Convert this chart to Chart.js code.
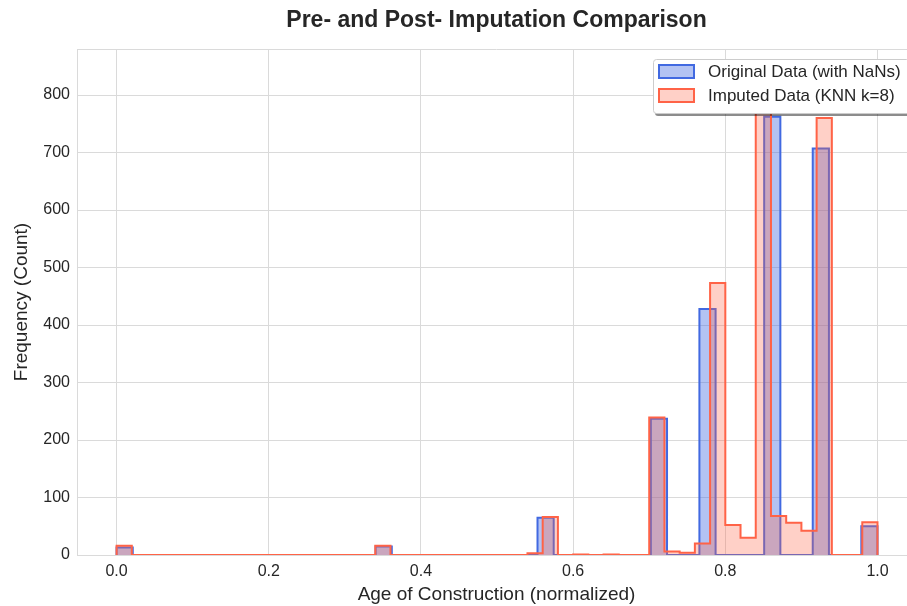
<!DOCTYPE html>
<html>
<head>
<meta charset="utf-8">
<script src="https://cdn.jsdelivr.net/npm/chart.js@4.4.1/dist/chart.umd.min.js"></script>
<style>
  html, body { margin: 0; padding: 0; background: #fff; overflow: hidden; }
  #wrap { width: 940px; height: 606px; }
</style>
</head>
<body>
<div id="wrap"><canvas id="hist" width="940" height="606"></canvas></div>
<script>
// histogram counts, equal-width bins over [0, 1]
var originalCounts = [
  13, 0, 0, 0, 0, 0, 0, 0, 0, 0,
  0, 0, 0, 0, 0, 0, 15, 0, 0, 0,
  0, 0, 0, 0, 0, 0, 65, 0, 0, 0,
  0, 0, 0, 237, 0, 0, 428, 0, 0, 0,
  762, 0, 0, 707, 0, 0, 50
];
var imputedCounts = [
  16, 0, 0, 0, 0, 0, 0, 0, 0, 0,
  0, 0, 0, 0, 0, 0, 0, 16, 0, 0,
  0, 0, 0, 0, 0, 0, 0, 3, 66, 0,
  1, 0, 1, 0, 0, 239, 6, 4, 20, 473,
  52, 30, 838, 68, 56, 42, 760, 0, 0, 57
];
var xTicks = [0.0, 0.2, 0.4, 0.6, 0.8, 1.0];
var yTicks = [0, 100, 200, 300, 400, 500, 600, 700, 800];

var labels = ['Original Data (with NaNs)', 'Imputed Data (KNN k=8)'];
var blueEdge = '#4169e1', blueFill = 'rgba(65,105,225,0.4)';
var redEdge = '#ff6347', redFill = 'rgba(255,99,71,0.3)';
var fontFamily = '"Liberation Sans", Arial, sans-serif';
var textColor = '#262626';
var gridColor = '#dadada';

// outline of a stepfilled histogram: one point per left bin edge, closed at 1.0
function stepPoints(counts){
    var n = counts.length;
    var pts = [{x: 0, y: 0}];
    for(var i = 0; i < n; i++){
        pts.push({x: i / n, y: counts[i]});
    }
    pts.push({x: 1, y: 0});
    return pts;
}

var frame = {
    id: 'frame',
    beforeDraw: function(chart){
        var ctx = chart.ctx, a = chart.chartArea;
        ctx.save();
        ctx.strokeStyle = gridColor;
        ctx.lineWidth = 1;
        ctx.beginPath();
        ctx.moveTo(a.left, a.top + 0.5);
        ctx.lineTo(a.right, a.top + 0.5);
        ctx.moveTo(a.right - 0.5, a.top);
        ctx.lineTo(a.right - 0.5, a.bottom);
        ctx.stroke();
        ctx.restore();
    },
    afterDraw: function(chart){
        var ctx = chart.ctx, a = chart.chartArea;
        ctx.save();
        // title, centred over the plot area
        ctx.fillStyle = textColor;
        ctx.font = 'bold 23px ' + fontFamily;
        ctx.textAlign = 'center';
        ctx.textBaseline = 'middle';
        ctx.fillText('Pre- and Post- Imputation Comparison', (a.left + a.right) / 2, 21);

        // legend box with shadow
        var bx = 653, by = 59, bw = 256, bh = 54;
        ctx.fillStyle = 'rgba(0,0,0,0.45)';
        ctx.beginPath();
        ctx.roundRect(bx + 2, by + 3, bw, bh, 3);
        ctx.fill();
        ctx.fillStyle = '#ffffff';
        ctx.strokeStyle = '#cccccc';
        ctx.lineWidth = 1;
        ctx.beginPath();
        ctx.roundRect(bx + 0.5, by + 0.5, bw, bh, 3);
        ctx.fill();
        ctx.stroke();

        var items = [
            {text: labels[0], fill: blueFill, edge: blueEdge, y: 65},
            {text: labels[1], fill: redFill, edge: redEdge, y: 89}
        ];
        ctx.font = '17px ' + fontFamily;
        ctx.textAlign = 'left';
        items.forEach(function(it){
            ctx.fillStyle = it.fill;
            ctx.fillRect(659, it.y, 35, 13);
            ctx.strokeStyle = it.edge;
            ctx.lineWidth = 2;
            ctx.strokeRect(659, it.y, 35, 13);
            ctx.fillStyle = textColor;
            ctx.fillText(it.text, 708, it.y + 7.5);
        });
        ctx.restore();
    }
};

new Chart(document.getElementById('hist'), {
    type: 'line',
    data: {
        datasets: [{
            label: labels[0],
            data: stepPoints(originalCounts),
            stepped: 'before',
            borderColor: blueEdge,
            backgroundColor: blueFill,
            borderWidth: 2,
            pointRadius: 0,
            fill: 'origin',
            order: 2
        }, {
            label: labels[1],
            data: stepPoints(imputedCounts),
            stepped: 'before',
            borderColor: redEdge,
            backgroundColor: redFill,
            borderWidth: 2,
            pointRadius: 0,
            fill: 'origin',
            order: 1
        }]
    },
    options: {
        responsive: false,
        animation: false,
        layout: {padding: {left: 0, top: 49, right: 24, bottom: 0}},
        plugins: {
            legend: {display: false},
            tooltip: {enabled: false}
        },
        scales: {
            x: {
                type: 'linear',
                min: -0.052,
                max: 1.0506,
                afterFit: function(scale){ scale.height = 51; },
                afterBuildTicks: function(scale){
                    scale.ticks = xTicks.map(function(v){ return {value: v}; });
                },
                grid: {color: gridColor, drawTicks: false},
                border: {color: gridColor},
                ticks: {
                    color: textColor,
                    font: {family: fontFamily, size: 16},
                    padding: 7,
                    maxRotation: 0,
                    callback: function(v){ return v.toFixed(1); }
                },
                title: {
                    display: true,
                    text: 'Age of Construction (normalized)',
                    color: textColor,
                    font: {family: fontFamily, size: 19},
                    padding: {top: 0, bottom: 0}
                }
            },
            y: {
                min: 0,
                max: 880,
                afterFit: function(scale){ scale.width = 77; },
                afterBuildTicks: function(scale){
                    scale.ticks = yTicks.map(function(v){ return {value: v}; });
                },
                grid: {color: gridColor, drawTicks: false},
                border: {color: gridColor},
                ticks: {
                    color: textColor,
                    font: {family: fontFamily, size: 16},
                    padding: 7
                },
                title: {
                    display: true,
                    text: 'Frequency (Count)',
                    color: textColor,
                    font: {family: fontFamily, size: 19},
                    padding: {top: 10, bottom: 0}
                }
            }
        }
    },
    plugins: [frame]
});
</script>
</body>
</html>
